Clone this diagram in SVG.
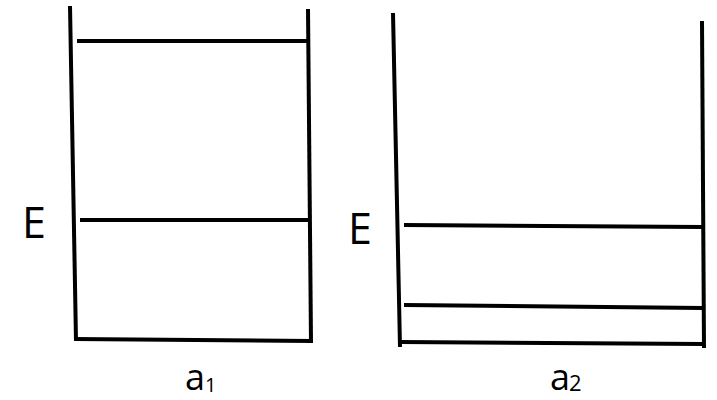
<svg xmlns="http://www.w3.org/2000/svg" width="717" height="400" viewBox="0 0 717 400">
<style>
.w{stroke:#000;stroke-width:4;fill:none;stroke-linecap:butt}
.t{font-family:"Open Sans","Liberation Sans",sans-serif;fill:#000}
</style>
<rect width="717" height="400" fill="#fff"/>
<g id="well1">
<line class="w" x1="70" y1="6" x2="76" y2="341"/>
<line class="w" x1="308" y1="9" x2="311" y2="342"/>
<line class="w" x1="74" y1="339" x2="313" y2="341"/>
<line class="w" x1="77" y1="41" x2="308" y2="41"/>
<line class="w" x1="80" y1="220" x2="309" y2="220"/>
<text class="t" x="22" y="238" font-size="43">E</text>
<text class="t" x="185" y="390" font-size="36">a</text>
<text class="t" x="205" y="392" font-size="20">1</text>
</g>
<g id="well2">
<line class="w" x1="393" y1="13" x2="400" y2="347"/>
<line class="w" x1="702" y1="21" x2="704" y2="348"/>
<line class="w" x1="400" y1="342" x2="704" y2="344"/>
<line class="w" x1="404" y1="225" x2="703" y2="227"/>
<line class="w" x1="404" y1="305" x2="703" y2="308"/>
<text class="t" x="348" y="244" font-size="43">E</text>
<text class="t" x="550" y="390" font-size="36">a</text>
<text class="t" x="569" y="391" font-size="22">2</text>
</g>
<g id="connectors"></g>
</svg>
